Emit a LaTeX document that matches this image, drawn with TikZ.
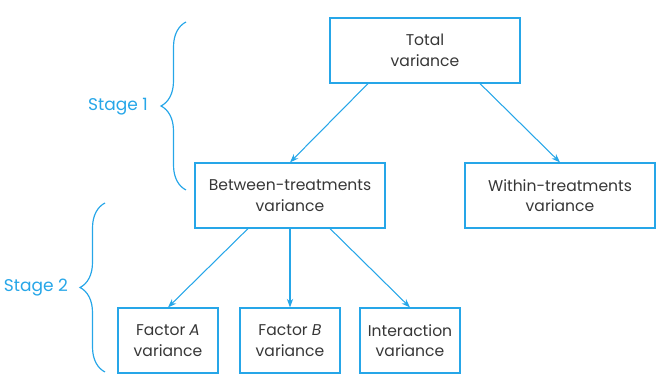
\documentclass[tikz,border=0pt]{standalone}
\usepackage{fontspec}
\setmainfont{Poppins}
\usetikzlibrary{arrows.meta,calc,decorations.pathreplacing}
\definecolor{lineblue}{RGB}{38,166,232}
\definecolor{textgray}{RGB}{55,55,55}

\begin{document}
\begin{tikzpicture}[x=0.03cm, y=0.03cm, >=Stealth, font=\fontsize{13.3}{17.5}\selectfont,
    box/.style={draw=lineblue, line width=1pt, text=textgray, align=center, inner sep=0pt, minimum height=1.95cm},
    wide/.style={box, minimum width=5.7cm},
    small/.style={box, minimum width=3cm},
    arr/.style={->, draw=lineblue, line width=0.9pt, arrows={-Stealth[length=2.6mm, width=1.9mm]}},
    stagelabel/.style={left, text=lineblue, font=\fontsize{14.5}{17}\selectfont},
    stagebrace/.style={draw=lineblue, line width=1pt, decorate, decoration={brace, amplitude=0.75cm}}]
  \useasboundingbox (0,0) rectangle (662,391);
  % Stage 1
  \node[wide] (total) at (425,340.5) {Total\\variance};
  \node[wide] (between) at (290,195.5) {Between-treatments\\variance};
  \node[wide] (within) at (560,195.5) {Within-treatments\\variance};
  \draw[arr] ($(total.south)+(-57,0)$) -- (between.north);
  \draw[arr] ($(total.south)+(55,0)$) -- (within.north);
  % Stage 2
  \node[small] (factora) at (168,50.5) {Factor \emph{A}\\variance};
  \node[small] (factorb) at (290,50.5) {Factor \emph{B}\\variance};
  \node[small] (inter) at (410,50.5) {Interaction\\variance};
  \draw[arr] ($(between.south)+(-42,0)$) -- (factora.north);
  \draw[arr] (between.south) -- (factorb.north);
  \draw[arr] ($(between.south)+(40,0)$) -- (inter.north);
  % Braces
  \draw[stagebrace] (186,201) -- (186,369);
  \node[stagelabel] (stageone) at (152,284) {Stage 1};
  \draw[stagebrace] (105,19) -- (105,188);
  \node[stagelabel] (stagetwo) at (72,103) {Stage 2};
\end{tikzpicture}
\end{document}
